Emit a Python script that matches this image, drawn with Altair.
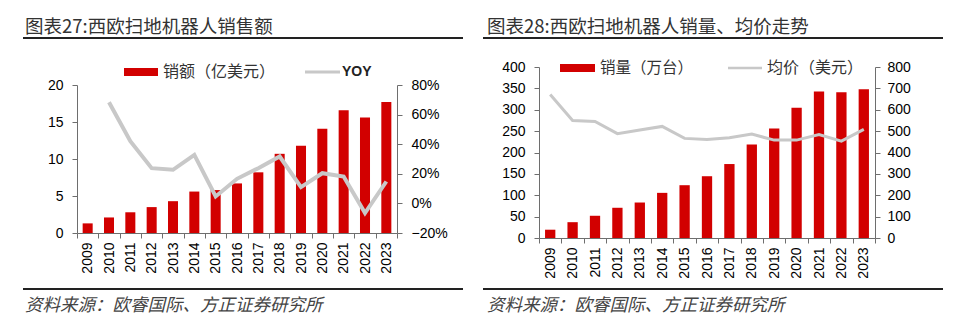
import altair as alt
import pandas as pd

# ---------------- data ----------------
years = [str(y) for y in range(2009, 2024)]
sales = [1.3, 2.1, 2.8, 3.5, 4.3, 5.6, 5.8, 6.7, 8.2, 10.7, 11.8, 14.1, 16.6, 15.6, 17.7]
yoy = [None, 0.683, 0.42, 0.238, 0.227, 0.328, 0.047, 0.166, 0.238, 0.317, 0.11, 0.204, 0.182, -0.065, 0.148]
volume = [19.4, 37, 52, 70.7, 83, 105.6, 123.5, 144.5, 173, 219, 256, 304.5, 342.5, 341, 348]
price = [671, 550, 545, 488, 505, 522, 466, 461, 469, 486, 458, 458, 484, 453, 508]

left_ticks = [0, 5, 10, 15, 20]
yoy_ticks = [-0.2, 0, 0.2, 0.4, 0.6, 0.8]
vol_ticks = [0, 50, 100, 150, 200, 250, 300, 350, 400]
price_ticks = [0, 100, 200, 300, 400, 500, 600, 700, 800]

title_l = "图表27:西欧扫地机器人销售额"
title_r = "图表28:西欧扫地机器人销量、均价走势"
source = "资料来源：欧睿国际、方正证券研究所"
leg_sales = "销额（亿美元）"
leg_yoy = "YOY"
leg_vol = "销量（万台）"
leg_price = "均价（美元）"

df_l = pd.DataFrame({"year": years, "sales": sales, "yoy": yoy})
df_r = pd.DataFrame({"year": years, "volume": volume, "price": price})

W, H = 960, 324
RED = "#D20000"
GREY = "#C8C8C8"
AX = "#6E6E6E"
NUM_FONT = "Liberation Sans"
CJK = "Noto Sans CJK SC"


def xaxis(offset):
    return alt.Axis(title=None, orient="bottom", offset=offset, labelAngle=-90,
                    labelFont=NUM_FONT, labelFontSize=14, labelColor="#000",
                    labelPadding=4, tickBand="extent", tickSize=5, tickColor=AX,
                    domainColor=AX, labelOverlap=False, labelBound=False, labelFlush=False)


def yaxis(orient, offset, values, fmt=None, pad=9):
    kw = dict(title=None, orient=orient, offset=offset, values=values,
              labelFont=NUM_FONT, labelFontSize=14, labelColor="#000",
              labelPadding=pad, tickSize=5, tickColor=AX, domainColor=AX,
              grid=False, labelOverlap=False, labelFlush=False, labelBound=False)
    if fmt:
        kw["format"] = fmt
    return alt.Axis(**kw)


# ---------------- left panel ----------------
xl = alt.X("year:N", sort=years,
           scale=alt.Scale(range=[77, 397], paddingInner=0, paddingOuter=0),
           axis=xaxis(-(H - 233)))
bars_l = alt.Chart(df_l).mark_bar(color=RED, width=alt.RelativeBandSize(0.47)).encode(
    x=xl,
    y=alt.Y("sales:Q", scale=alt.Scale(domain=[0, 20], range=[233, 85], nice=False, zero=True),
            axis=yaxis("left", -77, left_ticks)),
)
line_l = alt.Chart(df_l).mark_line(color=GREY, strokeWidth=4).encode(
    x=xl,
    y=alt.Y("yoy:Q", scale=alt.Scale(domain=[-0.2, 0.8], range=[233, 85], nice=False, zero=False),
            axis=yaxis("right", -(W - 397), yoy_ticks, ".0%", 9)),
)
left = alt.layer(bars_l, line_l).resolve_scale(y="independent")

# ---------------- right panel ----------------
xr = alt.X("year:N", sort=years,
           scale=alt.Scale(range=[539, 875], paddingInner=0, paddingOuter=0),
           axis=xaxis(-(H - 238)))
bars_r = alt.Chart(df_r).mark_bar(color=RED, width=alt.RelativeBandSize(0.46)).encode(
    x=xr,
    y=alt.Y("volume:Q", scale=alt.Scale(domain=[0, 400], range=[238, 67], nice=False, zero=True),
            axis=yaxis("left", -539, vol_ticks)),
)
line_r = alt.Chart(df_r).mark_line(color=GREY, strokeWidth=3).encode(
    x=xr,
    y=alt.Y("price:Q", scale=alt.Scale(domain=[0, 800], range=[238, 67], nice=False, zero=True),
            axis=yaxis("right", -(W - 875), price_ticks, None, 7)),
)
right = alt.layer(bars_r, line_r).resolve_scale(y="independent")


# ---------------- decorations ----------------
def text(t, x, y, size, font=CJK, color="#222", style="normal", weight="normal"):
    return alt.Chart(pd.DataFrame({"t": [t]})).mark_text(
        align="left", baseline="middle", font=font, fontSize=size, color=color,
        fontStyle=style, fontWeight=weight).encode(
        text="t:N", x=alt.value(x), y=alt.value(y))


def rule(x1, x2, y, color, width, name):
    return alt.Chart(pd.DataFrame({"n": [name]})).mark_rule(color=color, strokeWidth=width).encode(
        x=alt.value(x1), x2=alt.value(x2), y=alt.value(y), detail="n:N")


decos = [
    text(title_l, 25, 27, 18.5, color="#333"),
    text(title_r, 487, 27, 18.5, color="#333"),
    rule(23, 463, 38, "#222", 2, "a"),
    rule(483, 943, 38, "#222", 2, "b"),
    rule(23, 463, 289, "#222", 2, "c"),
    rule(483, 943, 289, "#222", 2, "d"),
    text(source, 25, 306, 17.5, color="#444", style="italic"),
    text(source, 487, 306, 17.5, color="#444", style="italic"),
    # legends
    rule(124, 158, 72, RED, 8, "e"),
    text(leg_sales, 163, 72, 16, color="#333"),
    rule(305, 340, 72, GREY, 3, "f"),
    text(leg_yoy, 342, 72, 14, font=NUM_FONT, color="#222", weight="bold"),
    rule(560, 595, 68, RED, 8, "g"),
    text(leg_vol, 600, 68, 15.5, color="#333"),
    rule(728, 762, 68, GREY, 2.5, "h"),
    text(leg_price, 767, 68, 16, color="#333"),
]

chart = alt.layer(left, right, *decos).resolve_scale(
    x="independent", y="independent"
).properties(
    width=W, height=H, padding=0, autosize=alt.AutoSizeParams(type="none"),
    background="white",
).configure_view(strokeWidth=0)

chart.save("out.html", embed_options={"renderer": "svg", "actions": False})
